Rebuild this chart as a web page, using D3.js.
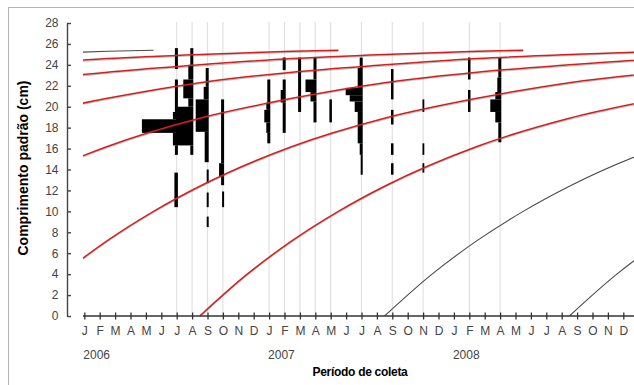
<!DOCTYPE html>
<html>
<head>
<meta charset="utf-8">
<script src="https://cdn.jsdelivr.net/npm/d3@7"></script>
<style>
  body { margin: 0; background: #fff; }
  text { font-family: "Liberation Sans", Arial, sans-serif; }
</style>
</head>
<body>
<div id="chart"></div>
<script>
// month letters along the x axis (Jan 2006 .. Dec 2008)
var monthLetters = ["J", "F", "M", "A", "M", "J", "J", "A", "S", "O", "N", "D"];
var years = ["2006", "2007", "2008"];
var lengthTicks = [0, 2, 4, 6, 8, 10, 12, 14, 16, 18, 20, 22, 24, 26, 28];

// growth curve: age (months) -> standard length (cm)
var ageMonths = [0, 3, 6, 9, 12, 18, 24, 30, 36, 42, 48, 54, 60, 66, 69];
var lengthAtAge = [0, 3.9, 7.2, 10.0, 12.4, 16.2, 18.9, 20.8, 22.3, 23.3, 24.0, 24.6, 25.0, 25.3, 25.4];

// birth month of each cohort (0 = Jan 2006)
var redCohorts = [-52.5, -40.5, -28.5, -16.5, -4.5, 7.5];
var grayCohorts = [-64.5, 19.5, 31.5];

// sampling months (0 = Jan 2006) and their length-frequency bars [from cm, to cm, freq]
var sampleMonths = [6, 7, 8, 9, 12, 13, 14, 15, 16, 18, 20, 22, 25, 27];
var jul06 = [[23.6, 25.6, 3], [19.5, 22.6, 3], [18.8, 19.5, 5], [17.5, 18.8, 36], [16.3, 17.5, 5], [15.4, 16.3, 3], [10.4, 13.7, 3.5]];
var aug06 = [[24.0, 25.6, 3], [22.6, 24.0, 5], [20.8, 22.6, 10], [20.0, 20.8, 5], [16.3, 20.0, 17], [15.4, 16.3, 3]];
var sep06 = [[21.9, 23.7, 3], [20.7, 21.9, 5], [17.6, 20.7, 13], [14.7, 17.6, 4], [12.7, 14.0, 2], [10.4, 11.8, 2], [8.5, 9.5, 2]];
var oct06 = [[14.6, 20.7, 3], [13.3, 14.6, 5], [12.5, 13.3, 3], [10.4, 11.9, 2]];
var jan07 = [[20.4, 22.6, 3], [19.7, 20.4, 4], [18.5, 19.7, 6], [17.5, 18.5, 4], [16.5, 17.5, 3]];
var feb07 = [[23.5, 24.7, 3], [21.6, 22.6, 3], [20.4, 21.6, 5], [17.5, 20.4, 3]];
var mar07 = [[19.5, 24.7, 3]];
var apr07 = [[22.6, 24.7, 3], [21.4, 22.6, 11], [20.5, 21.4, 6], [18.5, 20.5, 3]];
var may07 = [[18.5, 20.7, 2.5]];
var jul07 = [[23.7, 24.7, 3], [21.8, 23.7, 5], [21.1, 21.8, 17], [20.5, 21.1, 13], [19.5, 20.5, 8], [16.5, 19.5, 5], [15.4, 16.5, 3], [13.5, 15.4, 2]];
var sep07 = [[20.7, 23.6, 2.5], [18.3, 19.7, 2.5], [15.4, 16.5, 2.5], [13.5, 14.6, 2.5]];
var nov07 = [[19.5, 20.7, 1.8], [15.4, 16.5, 1.8], [13.7, 14.6, 1.8]];
var feb08 = [[22.6, 24.7, 2.5], [19.5, 21.6, 2.5]];
var apr08 = [[22.8, 24.7, 3], [21.4, 22.8, 4], [20.7, 21.4, 6], [19.5, 20.7, 11], [18.5, 19.5, 6], [16.6, 18.5, 3]];
var sampleBars = [jul06, aug06, sep06, oct06, jan07, feb07, mar07, apr07, may07, jul07, sep07, nov07, feb08, apr08];

var w = 634;
var h = 385;

var svg = d3.select("#chart")
            .append("svg")
            .attr("width", w)
            .attr("height", h);

// outer frame
svg.append("rect")
    .attr("x", 8.5)
    .attr("y", 7.5)
    .attr("width", 700)
    .attr("height", 500)
    .style("fill", "none")
    .style("stroke", "#b4b4b4")
    .style("stroke-width", 1);

var x = d3.scaleLinear()
          .domain([0, 35])
          .range([84.3, 623.3]);

var y = d3.scaleLinear()
          .domain([0, 28])
          .range([316, 23]);

var fScale = d3.scaleLinear()
               .domain([0, 40])
               .range([0, 40]);

svg.append("clipPath")
    .attr("id", "plot")
  .append("rect")
    .attr("x", 83)
    .attr("y", 0)
    .attr("width", w - 83)
    .attr("height", 316);

// light sampling grid lines
svg.selectAll(".grid")
    .data(sampleMonths)
    .enter()
    .append("line")
    .attr("class", "grid")
    .attr("x1", function(d) { return x(d); })
    .attr("x2", function(d) { return x(d); })
    .attr("y1", 22)
    .attr("y2", 316)
    .style("stroke", "#e2e2e2")
    .style("stroke-width", 1.2);

// length-frequency bars, drawn to the left of each sampling date
sampleBars.forEach(function(bars, i) {
    var m = sampleMonths[i];
    svg.append("g")
        .selectAll("rect")
        .data(bars)
        .enter()
        .append("rect")
        .attr("x", function(d) { return x(m) + 1.2 - fScale(d[2]); })
        .attr("width", function(d) { return fScale(d[2]); })
        .attr("y", function(d) { return y(d[1]); })
        .attr("height", function(d) { return y(d[0]) - y(d[1]); })
        .style("fill", "#000");
});

// cohort growth curves
var line = d3.line()
             .x(function(d) { return x(d[0]); })
             .y(function(d) { return y(d[1]); })
             .curve(d3.curveMonotoneX);

function cohortPoints(birth) {
    return ageMonths.map(function(a, i) { return [birth + a, lengthAtAge[i]]; });
}

var curves = svg.append("g").attr("clip-path", "url(#plot)");

curves.selectAll(".shadow")
    .data(redCohorts)
    .enter()
    .append("path")
    .attr("class", "shadow")
    .attr("d", function(d) { return line(cohortPoints(d)); })
    .attr("transform", "translate(0,1.2)")
    .style("fill", "none")
    .style("stroke", "#444")
    .style("stroke-opacity", 0.35)
    .style("stroke-width", 1);

curves.selectAll(".red")
    .data(redCohorts)
    .enter()
    .append("path")
    .attr("class", "red")
    .attr("d", function(d) { return line(cohortPoints(d)); })
    .style("fill", "none")
    .style("stroke", "#d21f1f")
    .style("stroke-width", 1.5);

curves.selectAll(".gray")
    .data(grayCohorts)
    .enter()
    .append("path")
    .attr("class", "gray")
    .attr("d", function(d) { return line(cohortPoints(d)); })
    .style("fill", "none")
    .style("stroke", "#4a4a4a")
    .style("stroke-width", 1.1);

// y axis
var yAxis = d3.axisLeft(y)
              .tickValues(lengthTicks)
              .tickSize(-4)
              .tickSizeOuter(0)
              .tickPadding(8.5);

var gy = svg.append("g")
    .attr("transform", "translate(67,0)")
    .call(yAxis);
gy.selectAll("path, line").style("stroke", "#444").style("stroke-width", 1.4);
gy.selectAll("text").style("font-size", "12px").style("fill", "#444")
    .style("font-family", "'Liberation Sans', Arial, sans-serif");

// x axis
svg.append("line")
    .attr("x1", 83)
    .attr("x2", w)
    .attr("y1", 316)
    .attr("y2", 316)
    .style("stroke", "#333")
    .style("stroke-width", 1.4);

var xAxis = d3.axisBottom(x)
              .tickValues(d3.range(36))
              .tickFormat(function(d) { return monthLetters[d % 12]; })
              .tickSize(4)
              .tickPadding(6);

var gx = svg.append("g")
    .attr("transform", "translate(0,316)")
    .call(xAxis);
gx.select(".domain").remove();
gx.selectAll(".tick line").attr("y1", -3.5).attr("y2", 3.5)
    .style("stroke", "#333").style("stroke-width", 1.3);
gx.selectAll("text").style("font-size", "12px").style("fill", "#444")
    .style("font-family", "'Liberation Sans', Arial, sans-serif");

svg.selectAll(".year")
    .data(years)
    .enter()
    .append("text")
    .attr("class", "year")
    .attr("x", function(d, i) { return x(i * 12) - 1; })
    .attr("y", 359)
    .style("font-size", "12px")
    .style("fill", "#444")
    .text(function(d) { return d; });

svg.append("text")
    .attr("x", 360)
    .attr("y", 376)
    .attr("text-anchor", "middle")
    .style("font-size", "12px")
    .style("font-weight", "bold")
    .style("letter-spacing", "-0.3px")
    .text("Período de coleta");

svg.append("text")
    .attr("transform", "translate(28,168) rotate(-90)")
    .attr("text-anchor", "middle")
    .style("font-size", "14px")
    .style("font-weight", "bold")
    .text("Comprimento padrão (cm)");
</script>
</body>
</html>
